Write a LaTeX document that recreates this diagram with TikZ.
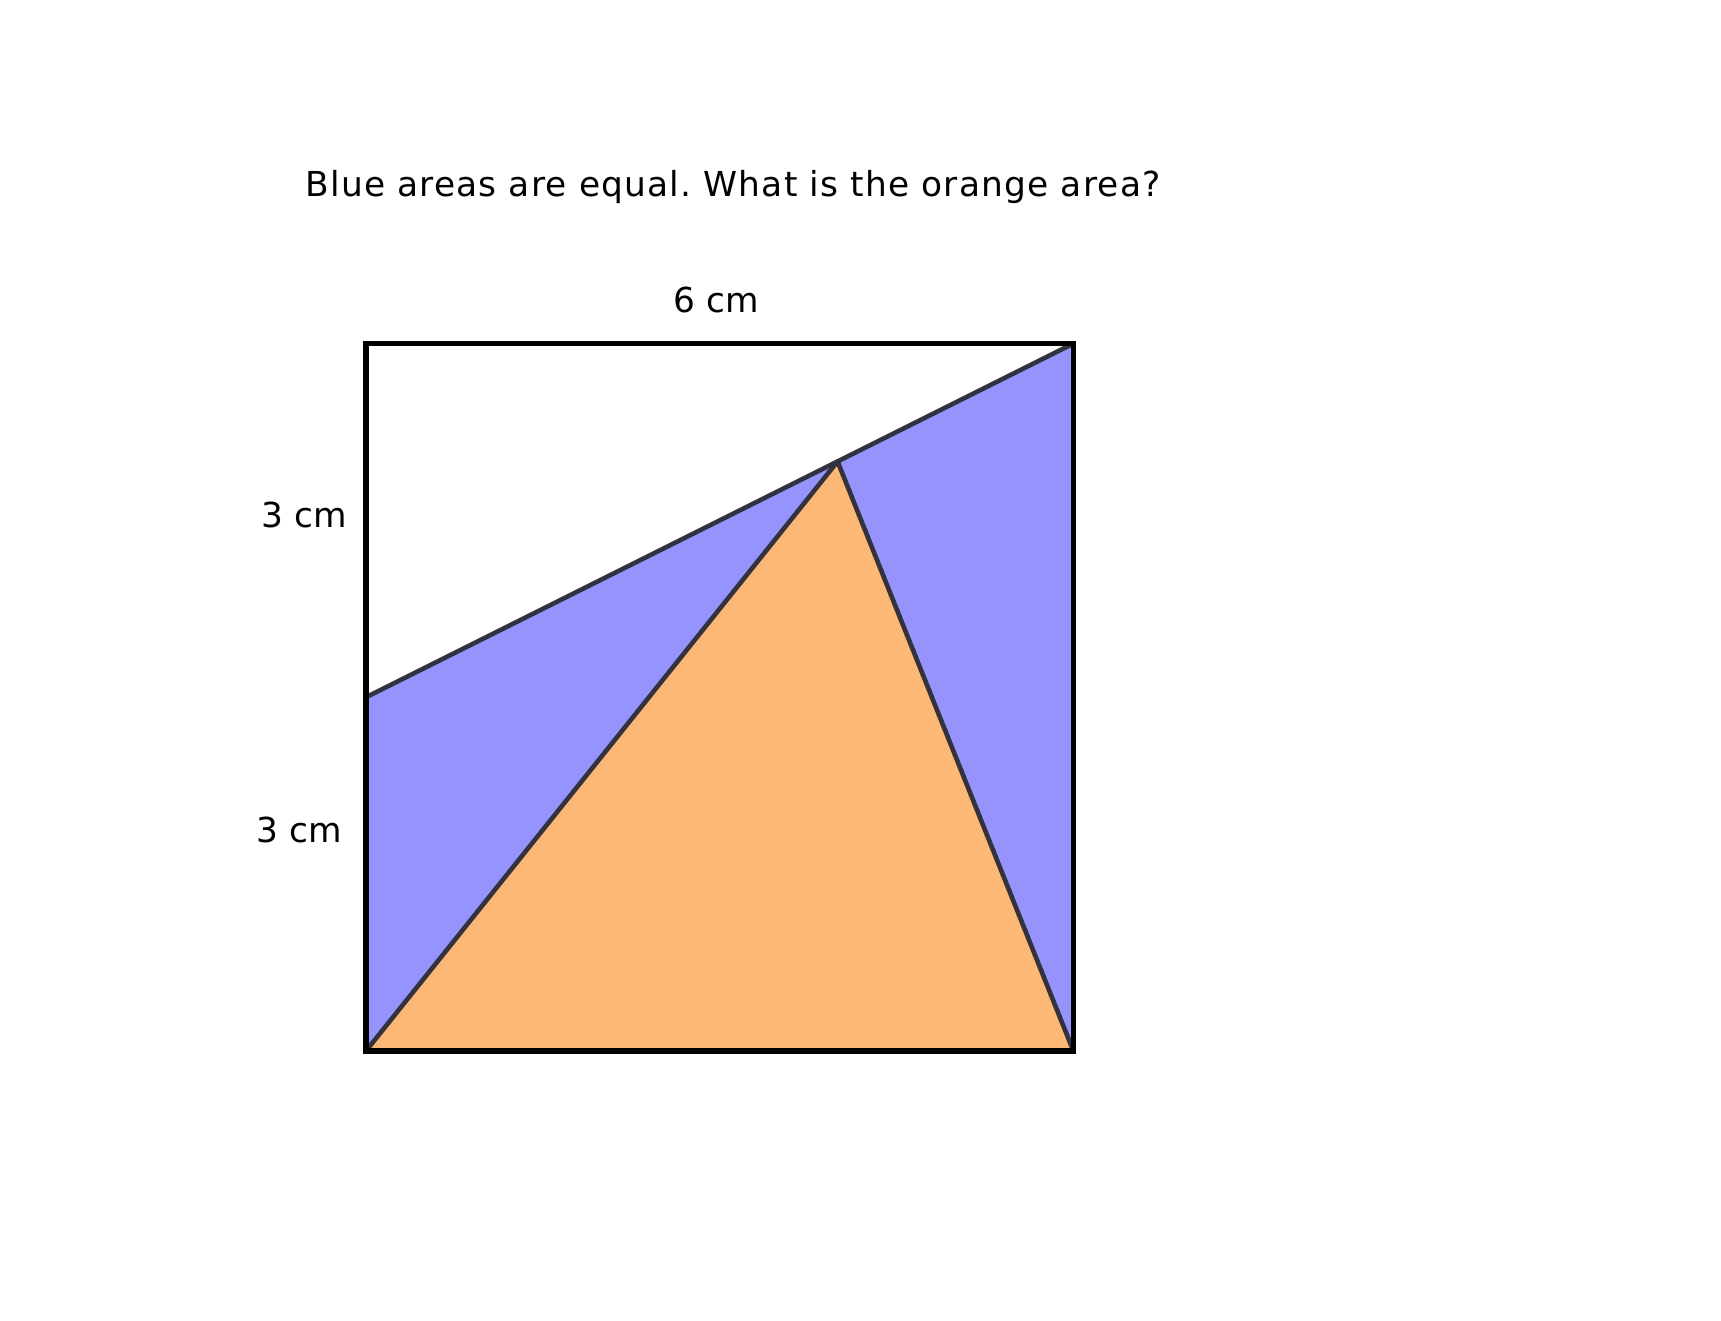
\documentclass[tikz,border=0pt]{standalone}
\usepackage{fontspec}
\setmainfont{DejaVu Sans}
\newfontfamily\titlefont[LetterSpace=3.5]{DejaVu Sans}
\definecolor{blueA}{HTML}{9494FC}
\definecolor{orangeA}{HTML}{FDB876}
\definecolor{lineA}{HTML}{34323F}
\tikzset{
  lbl/.style={inner sep=0pt, font=\fontsize{8.3pt}{10pt}\selectfont},
  inner/.style={draw=lineA, line width=1.1pt, line join=round},
  outer/.style={draw=black, line width=1.25pt, line join=miter}
}
\begin{document}
\begin{tikzpicture}
\useasboundingbox (-3.104,-2.290) rectangle (11.493,8.914);
\coordinate (A) at (0,0);
\coordinate (B) at (6,0);
\coordinate (C) at (6,6);
\coordinate (D) at (0,6);
\coordinate (M) at (0,3);
\coordinate (P) at (4,5);
\fill[blueA] (A) -- (M) -- (C) -- (B) -- cycle;
\fill[orangeA] (A) -- (P) -- (B) -- cycle;
\draw[inner] (M) -- (C);
\draw[inner] (A) -- (P) -- (B);
\draw[outer] (A) rectangle (C);
\node[lbl, anchor=base, font=\titlefont\fontsize{8.3pt}{10pt}\selectfont\frenchspacing] (title) at (3.113,7.243) {Blue areas are equal. What is the orange area?};
\node[lbl, anchor=base] (top) at (2.97,6.26) {6 cm};
\node[lbl, anchor=base east] (upper) at (-0.153,4.444) {3 cm};
\node[lbl, anchor=base east] (lower) at (-0.195,1.764) {3 cm};
\end{tikzpicture}
\end{document}
